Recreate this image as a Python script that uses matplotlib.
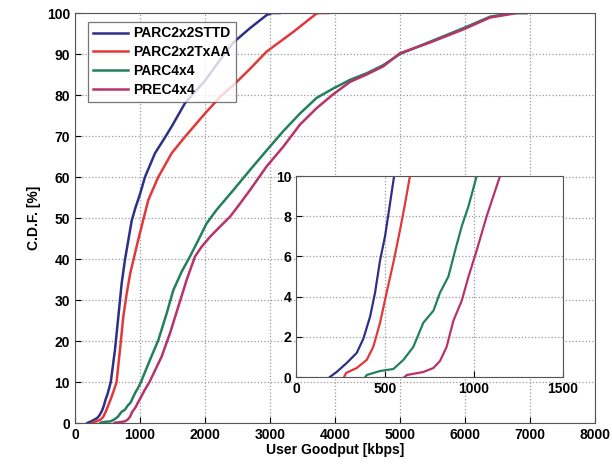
import matplotlib
matplotlib.use("Agg")
import matplotlib.pyplot as plt

plt.rcParams['font.family'] = ['Liberation Sans', 'DejaVu Sans']
plt.rcParams['font.weight'] = 'bold'

# CDF curves: goodput [kbps] -> C.D.F. [%]
sttd_x = [190, 228, 285, 341, 378, 416, 444, 472, 500, 519, 551, 615, 667, 718, 769, 820, 872,
          930, 1000, 1077, 1231, 1359, 1487, 1692, 2000, 2300, 2436, 2692, 2949, 3030, 3150]
sttd_y = [0, 0.25, 0.7, 1.2, 1.9, 3.0, 4.2, 5.8, 7.0, 8.1, 10, 17.8, 25.9, 34, 39.8, 44.5, 49.3,
          52.5, 55.8, 60, 65.8, 69, 72.3, 78, 83.5, 90, 92.8, 96.3, 99.5, 100, 100]

txaa_x = [270, 281, 341, 397, 434, 472, 509, 547, 584, 612, 640, 692, 744, 795, 850, 910, 970,
          1026, 1128, 1282, 1487, 1692, 2000, 2231, 2436, 2700, 2949, 3359, 3718, 3770, 3900]
txaa_y = [0, 0.2, 0.45, 0.85, 1.5, 2.7, 4.2, 5.7, 7.3, 8.6, 10, 17.8, 26, 31.5, 36.5, 40.5, 44.5,
          48, 54.4, 60, 65.8, 69.8, 75.5, 79.5, 82.4, 86.5, 90.6, 95.4, 99.9, 100, 100]

parc_x = [390, 397, 472, 547, 603, 659, 715, 772, 809, 856, 894, 931, 969, 1015, 1154, 1282, 1410,
          1513, 1641, 1769, 1897, 2026, 2179, 2436, 2692, 2949, 3205, 3462, 3718, 3974, 4231, 4487,
          4744, 5000, 5462, 5974, 6385, 6750, 6950]
parc_y = [0, 0.1, 0.3, 0.4, 0.85, 1.5, 2.7, 3.3, 4.2, 5.0, 6.3, 7.5, 8.5, 10, 15.4, 20.2, 26.7,
          32.4, 36.9, 40.6, 44.6, 48.7, 52, 56.8, 61.7, 66.5, 71.2, 75.5, 79.3, 81.6, 83.7, 85.3,
          87.3, 90, 93, 96.3, 99.1, 100, 100]

prec_x = [610, 622, 715, 772, 809, 846, 884, 931, 969, 1015, 1071, 1146, 1333, 1462, 1590, 1718,
          1846, 1949, 2077, 2231, 2385, 2538, 2692, 2949, 3205, 3462, 3718, 3974, 4231, 4487, 4744,
          5000, 5462, 5974, 6385, 6800, 6950]
prec_y = [0, 0.1, 0.25, 0.45, 0.8, 1.5, 2.8, 3.8, 5.0, 6.3, 8.0, 10, 16.2, 21.9, 28.4, 34.9,
          40.6, 43, 45.4, 47.9, 50.3, 53.5, 56.8, 62.6, 67.4, 72.8, 76.8, 80.2, 83.2, 85, 87,
          90.2, 92.8, 96, 98.9, 100, 100]

labels = ['PARC2x2STTD', 'PARC2x2TxAA', 'PARC4x4', 'PREC4x4']
colors = ['#2e2f86', '#e2383a', '#23805e', '#b8336a']
series = [(sttd_x, sttd_y), (txaa_x, txaa_y), (parc_x, parc_y), (prec_x, prec_y)]

fig = plt.figure(figsize=(6.12, 4.65), dpi=100)
ax = fig.add_axes([0.1225, 0.0903, 0.8497, 0.8817])

for (x, y), c, lab in zip(series, colors, labels):
    ax.plot(x, y, color=c, lw=1.8, label=lab)

ax.set_xlim(0, 8000)
ax.set_ylim(0, 100)
ax.set_xticks(range(0, 8001, 1000))
ax.set_yticks(range(0, 101, 10))
ax.grid(True, color='#9a9a9a', linestyle=':', linewidth=0.9)
ax.tick_params(labelsize=10, direction='in', length=4)
ax.set_xlabel('User Goodput [kbps]', fontsize=10, fontweight='bold', labelpad=1)
ax.set_ylabel('C.D.F. [%]', fontsize=10, fontweight='bold', labelpad=4)
for sp in ax.spines.values():
    sp.set_color('#555555')

leg = ax.legend(loc='upper left', bbox_to_anchor=(0.012, 0.996), fontsize=10, handlelength=2.5,
                frameon=True, fancybox=False, edgecolor='#555555', borderpad=0.35,
                labelspacing=0.35, handletextpad=0.4)
leg.get_frame().set_linewidth(0.9)
for t in leg.get_texts():
    t.set_fontweight('bold')

# zoomed inset of the lower tails
axi = fig.add_axes([0.4837, 0.1892, 0.4363, 0.4323])
for (x, y), c in zip(series, colors):
    axi.plot(x, y, color=c, lw=1.6)
axi.set_xlim(0, 1500)
axi.set_ylim(0, 10)
axi.set_xticks([0, 500, 1000, 1500])
axi.set_yticks(range(0, 11, 2))
axi.grid(True, color='#9a9a9a', linestyle=':', linewidth=0.9)
axi.tick_params(labelsize=10, direction='in', length=4)
for sp in axi.spines.values():
    sp.set_color('#555555')

fig.savefig('out.png', dpi=100)
